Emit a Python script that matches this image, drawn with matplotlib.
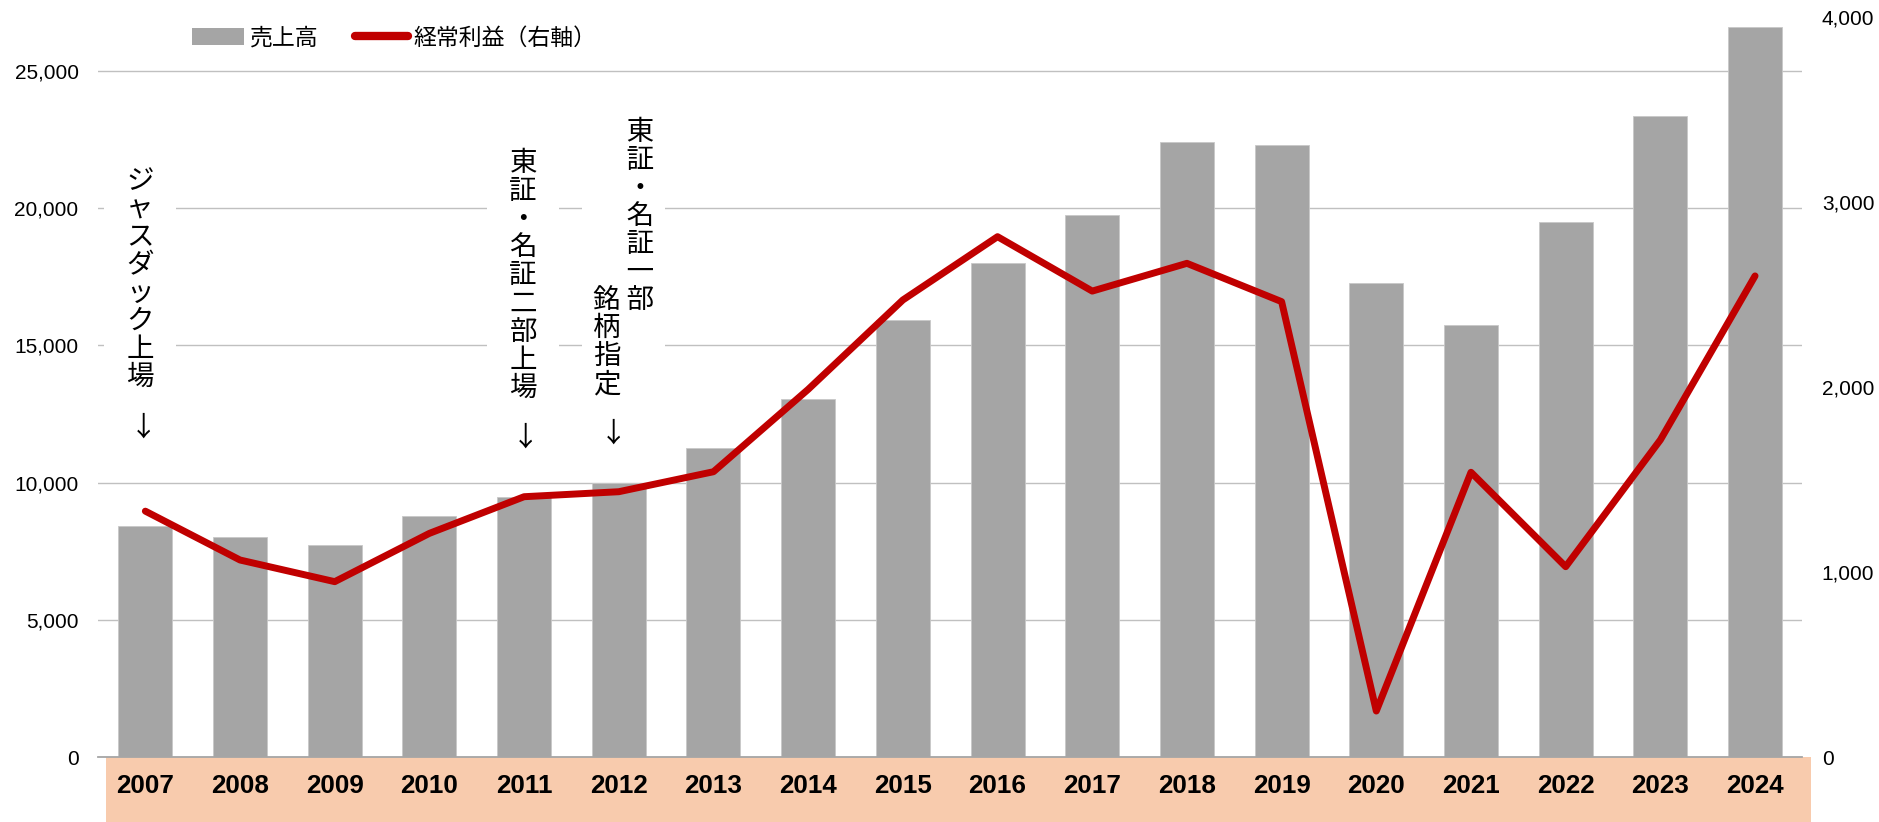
import numpy as np
import matplotlib
matplotlib.use('Agg')
import matplotlib.pyplot as plt
import matplotlib.transforms as mtransforms
from matplotlib.patches import Patch, Rectangle
from matplotlib.lines import Line2D
from matplotlib.ticker import FuncFormatter

# データ（単位: 百万円）
years = ['2007', '2008', '2009', '2010', '2011', '2012', '2013', '2014', '2015',
         '2016', '2017', '2018', '2019', '2020', '2021', '2022', '2023', '2024']
sales = [8430, 8035, 7740, 8775, 9480, 9980, 11265, 13035, 15925,
         17990, 19750, 22405, 22300, 17260, 15755, 19495, 23355, 26595]
profit = [1330, 1066, 949, 1210, 1408, 1435, 1543, 1988, 2471,
          2813, 2519, 2669, 2462, 250, 1540, 1030, 1715, 2601]

label_sales = '売上高'
label_profit = '経常利益（右軸）'

# 縦書きの注記
note_jasdaq = 'ジャスダック上場'
note_2bu = '東証・名証二部上場'
note_1bu_a = '東証・名証一部'
note_1bu_b = '銘柄指定'

GRAY = '#A5A5A5'
RED = '#C00000'
BAND = '#F8CBAD'
CJK = ['Noto Sans CJK JP', 'DejaVu Sans']

plt.rcParams['font.family'] = ['Liberation Sans', 'Noto Sans CJK JP']

W, H = 1879, 822
fig = plt.figure(figsize=(W / 100, H / 100), dpi=100)
ax = fig.add_axes([98 / W, (H - 757.3) / H, (1802.4 - 98) / W, (757.3 - 17) / H])

x = np.arange(len(years))
ax.bar(x, sales, width=0.57, color=GRAY, edgecolor='#C8C8C8', linewidth=0.6, zorder=2)
ax.set_xlim(-0.5, len(years) - 0.5)
ax.set_ylim(0, 26960)
ax.set_yticks(range(0, 25001, 5000))
ax.yaxis.set_major_formatter(FuncFormatter(lambda v, p: f'{int(v):,}'))
ax.set_axisbelow(True)
ax.grid(axis='y', color='#C0C0C0', linewidth=1.0)
for s in ['top', 'left', 'right']:
    ax.spines[s].set_visible(False)
ax.spines['bottom'].set_color('#A6A6A6')
ax.spines['bottom'].set_linewidth(1.3)
ax.tick_params(axis='y', length=0, pad=14, labelsize=15)
ax.tick_params(axis='x', length=0, pad=12, labelsize=18.7)
ax.set_xticks(x, years, fontweight='bold')

# 年ラベルの背景帯
trans = mtransforms.blended_transform_factory(ax.transData, fig.transFigure)
ax.add_patch(Rectangle((-0.415, 0), len(years) - 0.5 + 0.09 + 0.415, (H - 757.3) / H,
                       transform=trans, facecolor=BAND, edgecolor='none',
                       clip_on=False, zorder=0.1))

# 注記（白背景でグリッドを隠す）
box = dict(boxstyle='square,pad=0.8', facecolor='white', edgecolor='none')
ax.text(-0.056, 17400, '\n'.join(note_jasdaq), ha='center', va='center',
        fontsize=19.8, family=CJK, linespacing=1.05, bbox=box, zorder=3)
ax.text(3.99, 17530, '\n'.join(note_2bu), ha='center', va='center',
        fontsize=19.8, family=CJK, linespacing=1.05, bbox=box, zorder=3)
rows = ['\u3000 ' + c for c in note_1bu_a[:-1]]
rows.append(note_1bu_b[0] + ' ' + note_1bu_a[-1])
rows += list(note_1bu_b[1:])
box2 = dict(boxstyle='square,pad=0.4', facecolor='white', edgecolor='none')
ax.text(5.05, 18160, '\n'.join(rows), ha='center', va='center', multialignment='left',
        fontsize=19.8, family=CJK, linespacing=1.05, bbox=box2, zorder=3)
for ax_x, ax_y in [(-0.02, 11990), (4.01, 11630), (4.94, 11770)]:
    ax.text(ax_x, ax_y, '↓', ha='center', va='center', fontsize=19.8, family=CJK, zorder=3)

# 経常利益（右軸）
ax2 = ax.twinx()
ax2.plot(x, profit, color=RED, linewidth=5, solid_capstyle='round', zorder=3)
ax2.set_ylim(0, 4000)
ax2.set_yticks(range(0, 4001, 1000))
ax2.yaxis.set_major_formatter(FuncFormatter(lambda v, p: f'{int(v):,}'))
for s in ax2.spines.values():
    s.set_visible(False)
ax2.tick_params(axis='y', length=0, pad=14, labelsize=15)

handles = [Patch(facecolor=GRAY, edgecolor='none', label=label_sales),
           Line2D([], [], color=RED, linewidth=6, solid_capstyle='round', label=label_profit)]
fig.legend(handles=handles, loc='center left', bbox_to_anchor=(191.7 / W, (H - 38) / H),
           ncol=2, frameon=False, prop={'family': CJK, 'size': 16.5},
           handlelength=2.3, handleheight=0.75, handletextpad=0.25,
           columnspacing=1.6, borderpad=0, borderaxespad=0)

fig.savefig('out.png', dpi=100)
